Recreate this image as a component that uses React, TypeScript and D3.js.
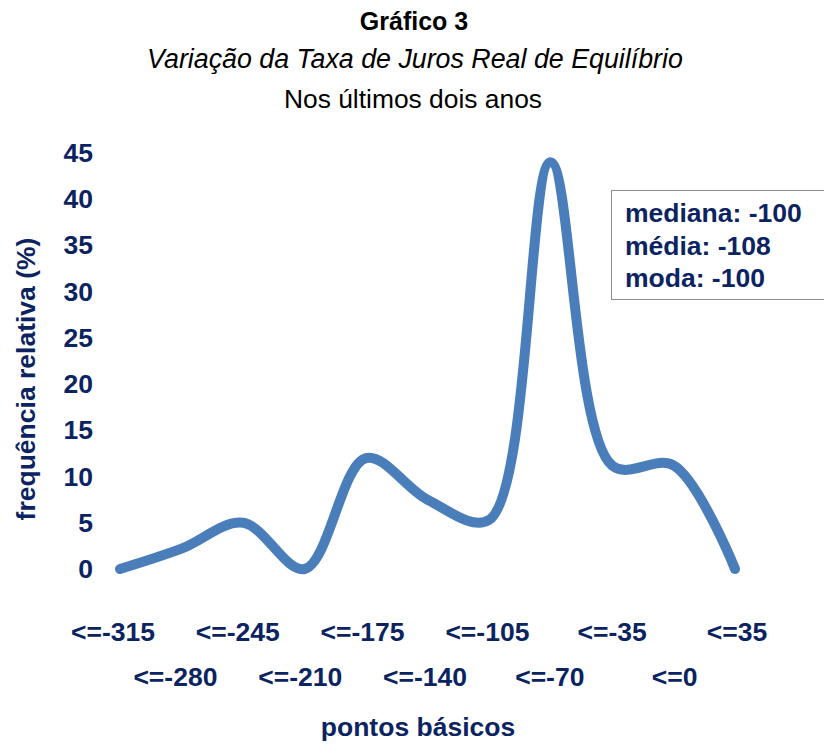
import React from 'react';
import * as d3 from 'd3';

const categories = ['<=-315', '<=-280', '<=-245', '<=-210', '<=-175', '<=-140', '<=-105', '<=-70', '<=-35', '<=0', '<=35'];
const frequencia = [0, 2.2, 5, 0, 12, 7.5, 5.3, 44, 11.2, 11.2, 0];
const yTicks = [0, 5, 10, 15, 20, 25, 30, 35, 40, 45];
const statsLines = ['mediana: -100', 'média: -108', 'moda: -100'];

const W = 824;
const H = 744;
const NAVY = '#0b2461';
const BLUE = '#4a7ebb';
const FONT = '"Liberation Sans", Arial, sans-serif';

export default function App() {
  const x = d3.scalePoint<string>().domain(categories).range([120, 735]);
  const y = d3.scaleLinear().domain([0, 45]).range([569, 153]);

  const line = d3.line<number>()
    .x((_, i) => x(categories[i]) || 0)
    .y(d => y(d))
    .curve(d3.curveCatmullRom.alpha(0.5));

  return (
    <div style={{ position: 'absolute', left: 0, top: 0 }}>
      <svg width={W} height={H} viewBox={`0 0 ${W} ${H}`} style={{ display: 'block', background: '#fff' }}>
        {/* titles */}
        <text x={414} y={30} textAnchor="middle" fontFamily={FONT} fontWeight="bold" fontSize={25} fill="#000">Gráfico 3</text>
        <text x={415} y={68} textAnchor="middle" fontFamily={FONT} fontStyle="italic" fontSize={26.8} fill="#000">Variação da Taxa de Juros Real de Equilíbrio</text>
        <text x={413} y={108} textAnchor="middle" fontFamily={FONT} fontSize={26.4} fill="#000">Nos últimos dois anos</text>

        {/* y axis */}
        {yTicks.map(t => (
          <text key={t} x={93} y={y(t) + 9} textAnchor="end" fontFamily={FONT} fontWeight="bold" fontSize={26.5} fill={NAVY}>{t}</text>
        ))}
        <text transform="translate(35,379) rotate(-90)" textAnchor="middle" fontFamily={FONT} fontWeight="bold" fontSize={26.5} fill={NAVY}>frequência relativa (%)</text>

        {/* x axis labels, staggered on two rows */}
        {categories.map((c, i) => (
          <text key={c} x={(x(c) || 0) - 7 + i * 0.9} y={i % 2 === 0 ? 641 : 686} textAnchor="middle" fontFamily={FONT} fontWeight="bold" fontSize={26.5} fill={NAVY}>{c}</text>
        ))}
        <text x={418} y={736} textAnchor="middle" fontFamily={FONT} fontWeight="bold" fontSize={26.5} fill={NAVY}>pontos básicos</text>

        {/* smoothed line */}
        <path d={line(frequencia) || ''} fill="none" stroke={BLUE} strokeWidth={10} strokeLinecap="round" strokeLinejoin="round" />

        {/* stats box */}
        <rect x={611.5} y={190.5} width={220} height={109} fill="#fff" stroke="#8c8c8c" strokeWidth={1} />
        {statsLines.map((s, i) => (
          <text key={s} x={625} y={222 + i * 32.5} fontFamily={FONT} fontWeight="bold" fontSize={26.5} fill={NAVY}>{s}</text>
        ))}
      </svg>
    </div>
  );
}
